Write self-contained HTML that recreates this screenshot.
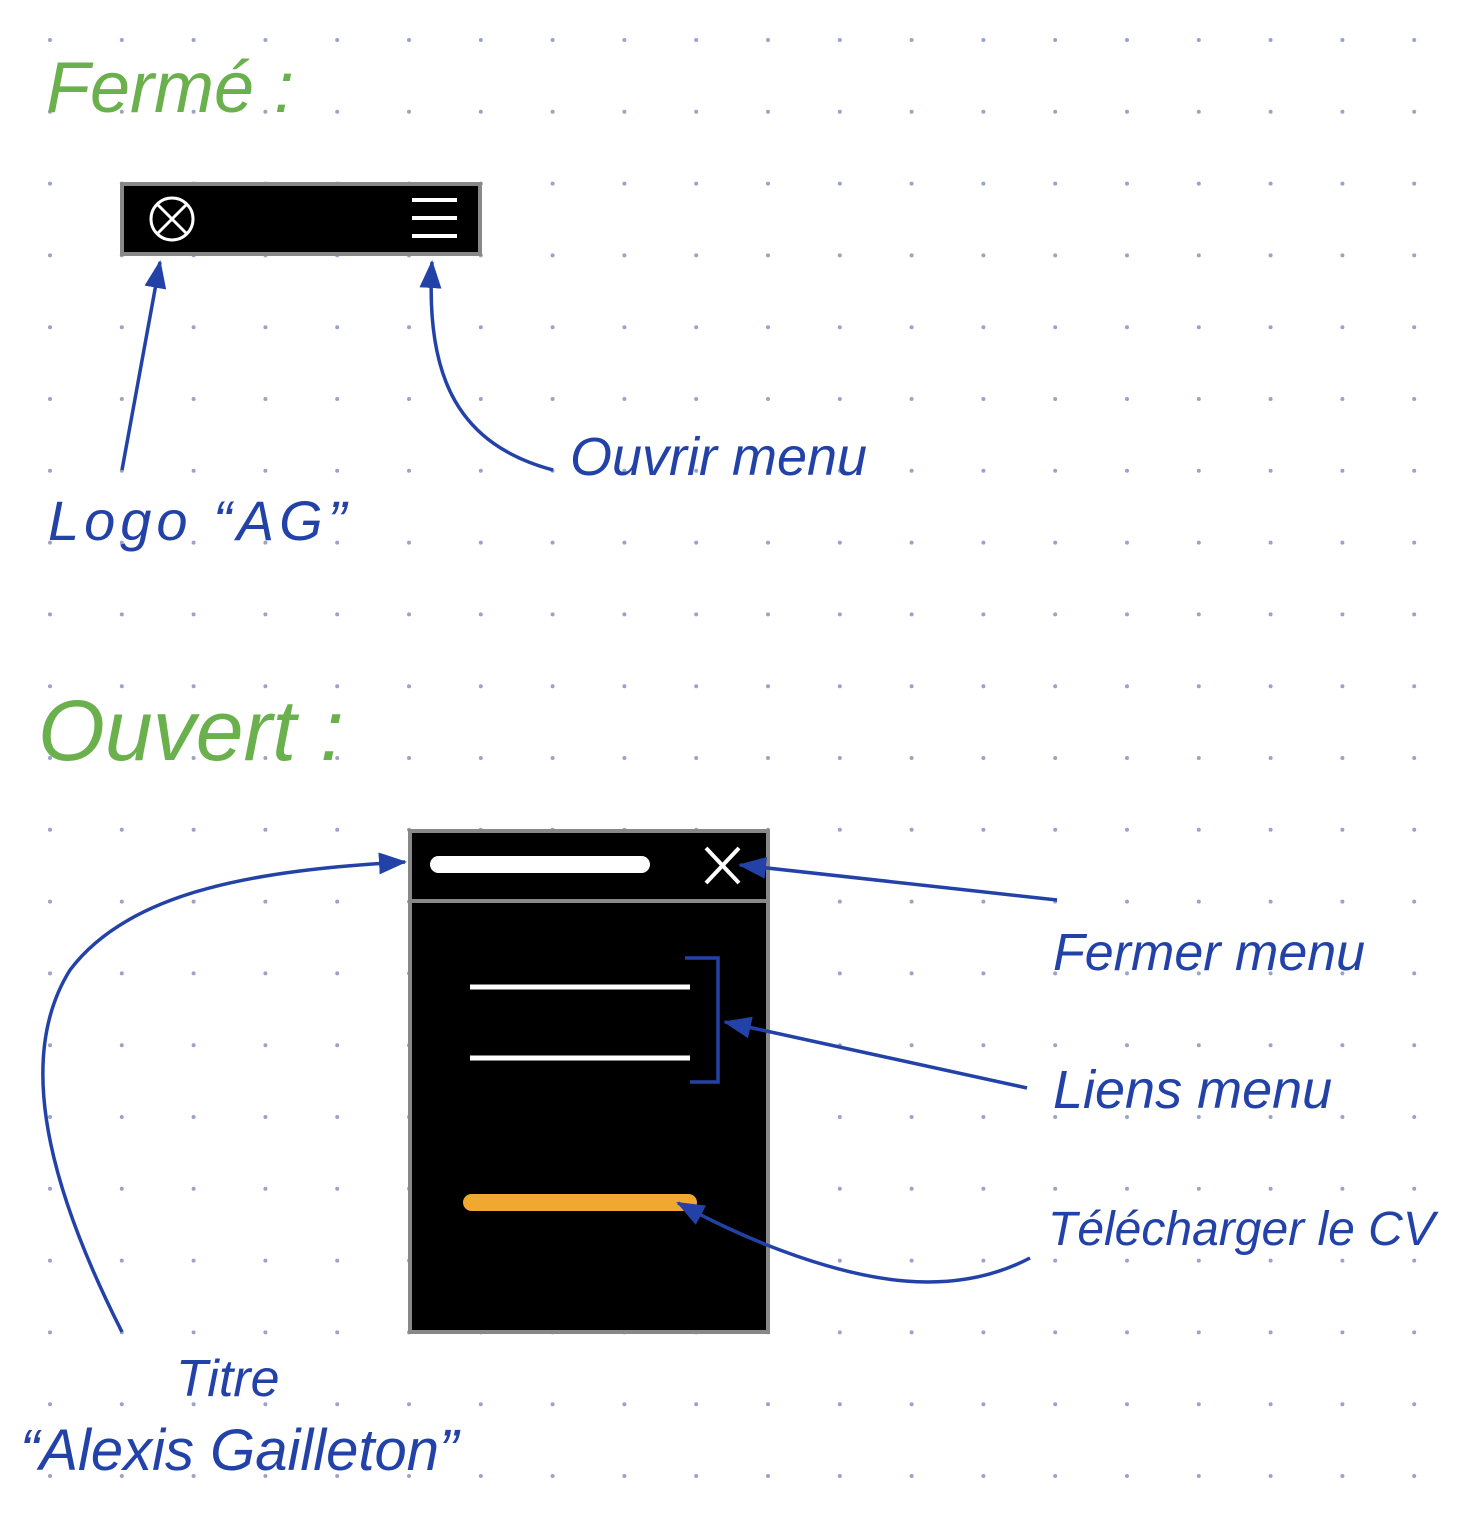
<!DOCTYPE html>
<html><head><meta charset="utf-8"><style>
html,body{margin:0;padding:0;background:#fff;}
svg{display:block;}
.hand{font-family:"Liberation Sans",sans-serif;font-style:italic;}
</style></head><body>
<svg width="1468" height="1540" viewBox="0 0 1468 1540" xmlns="http://www.w3.org/2000/svg">
<defs>
<marker id="ahb" markerWidth="30" markerHeight="30" refX="26" refY="15" orient="auto" markerUnits="userSpaceOnUse" viewBox="0 0 30 30">
<path d="M0,4 L28,15 L0,26 z" fill="#2342a8"/>
</marker>
</defs>
<g id="dots"></g>

<text class="hand" x="46" y="112" font-size="72" fill="#6ab04c">Fermé :</text>

<g>
<rect x="122" y="184" width="358" height="70" fill="#000" stroke="#888" stroke-width="4"/>
<g>
<circle cx="172" cy="219" r="21" fill="none" stroke="#fff" stroke-width="3"/>
<path d="M158,205 L186,233 M186,205 L158,233" stroke="#fff" stroke-width="3"/>
</g>
<g stroke="#fff" stroke-width="4">
<line x1="412" y1="200" x2="457" y2="200"/><line x1="412" y1="218" x2="457" y2="218"/><line x1="412" y1="236" x2="457" y2="236"/>
</g>
</g>

<g>
<rect x="410" y="831" width="358" height="501" fill="#000" stroke="#888" stroke-width="4"/>
<line x1="410" y1="901" x2="768" y2="901" stroke="#888" stroke-width="4"/>
<rect x="430" y="856" width="220" height="17" rx="8.5" fill="#fff"/>
<path d="M706,848 L739,883 M739,848 L706,883" stroke="#fff" stroke-width="4"/>
<line x1="470" y1="987" x2="690" y2="987" stroke="#fff" stroke-width="5"/>
<line x1="470" y1="1058" x2="690" y2="1058" stroke="#fff" stroke-width="5"/>
<rect x="463" y="1194" width="234" height="17" rx="8.5" fill="#f0a830"/>
</g>

<g fill="none" stroke="#2342a8" stroke-width="3.5">
<path d="M122,470 L160,262" marker-end="url(#ahb)"/>
<path d="M553,470 C460,445 425,380 432,262" marker-end="url(#ahb)"/>
<path d="M122,1332 C40,1170 20,1050 70,970 C130,890 260,870 405,862" marker-end="url(#ahb)"/>
<path d="M1057,900 L740,865" marker-end="url(#ahb)"/>
<path d="M1027,1088 L725,1022" marker-end="url(#ahb)"/>
<path d="M1030,1258 C950,1300 860,1280 780,1250 C740,1235 710,1220 678,1203" marker-end="url(#ahb)"/>
<path d="M685,958 L718,958 L718,1082 L690,1082"/>
</g>

<text class="hand" x="570" y="475" font-size="54" fill="#2342a8">Ouvrir menu</text>
<text class="hand" x="48" y="540" font-size="56" letter-spacing="5" fill="#2342a8">Logo “AG”</text>

<text class="hand" x="38" y="760" font-size="86" fill="#6ab04c">Ouvert :</text>

<text class="hand" x="1053" y="970" font-size="52" fill="#2342a8">Fermer  menu</text>
<text class="hand" x="1053" y="1108" font-size="54" fill="#2342a8">Liens  menu</text>
<text class="hand" x="1048" y="1245" font-size="48" fill="#2342a8">Télécharger le CV</text>
<text class="hand" x="176" y="1396" font-size="52" fill="#2342a8">Titre</text>
<text class="hand" x="20" y="1470" font-size="58" fill="#2342a8">“Alexis Gailleton”</text>
</svg>
<script>
var g=document.getElementById('dots');
for(var r=0;r<21;r++){for(var c=0;c<20;c++){
var d=document.createElementNS('http://www.w3.org/2000/svg','circle');
d.setAttribute('cx',(50+c*71.8).toFixed(1));
d.setAttribute('cy',(40+r*71.8).toFixed(1));
d.setAttribute('r','2');
d.setAttribute('fill','#9aa3c8');


g.appendChild(d);}}
</script>
</body></html>
